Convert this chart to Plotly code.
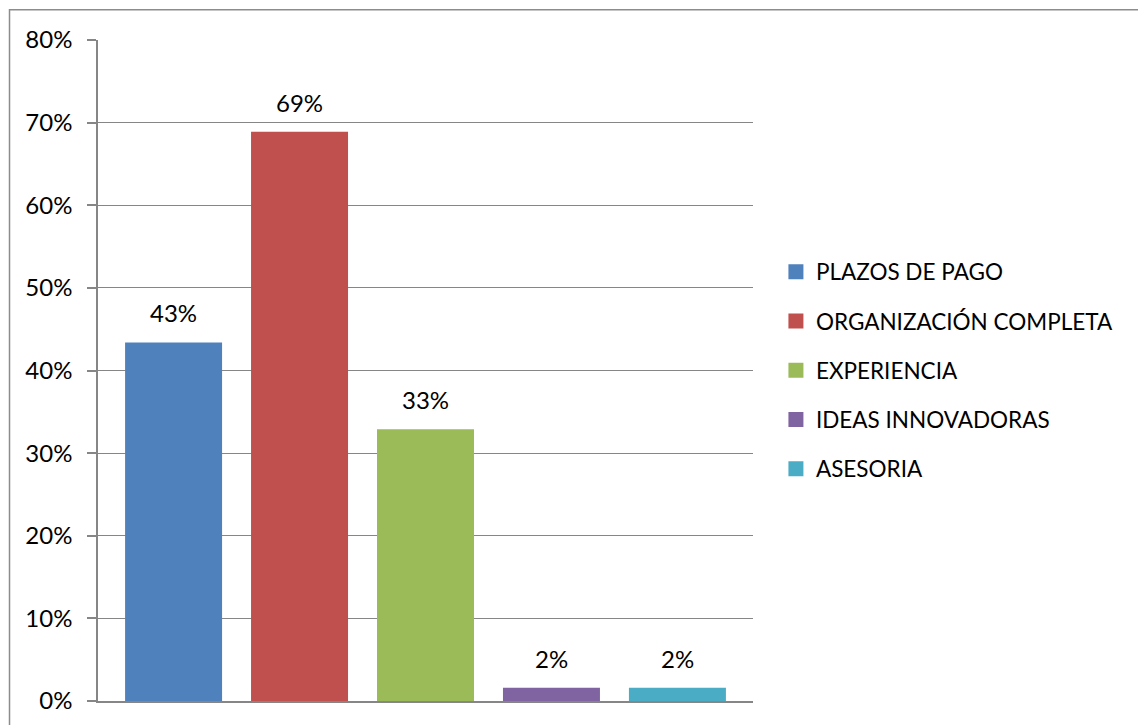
import plotly.graph_objects as go

# Survey results: share of respondents naming each factor
categories = ["PLAZOS DE PAGO", "ORGANIZACIÓN COMPLETA", "EXPERIENCIA",
              "IDEAS INNOVADORAS", "ASESORIA"]
values = [0.434, 0.689, 0.329, 0.016, 0.016]
colors = ["#4F81BD", "#C0504D", "#9BBB59", "#8064A2", "#4BACC6"]
y_ticks = [0, 0.1, 0.2, 0.3, 0.4, 0.5, 0.6, 0.7, 0.8]

FONT = "Lato, Calibri, Carlito, sans-serif"
GRID = "#868686"

fig = go.Figure()
for i, (cat, val, col) in enumerate(zip(categories, values, colors)):
    fig.add_trace(go.Bar(
        x=[cat], y=[val], name=cat, showlegend=False,
        marker=dict(color=col, line=dict(width=0)),
        hoverinfo="skip",
    ))
    # legend entry with a larger square swatch
    fig.add_trace(go.Scatter(
        x=[None], y=[None], name=cat, mode="markers",
        marker=dict(symbol="square", size=15, color=col),
        legendgroup=f"g{i}", hoverinfo="skip",
    ))
    # value label above each bar
    fig.add_annotation(
        x=cat, y=val, text=f"{val:.0%}", showarrow=False,
        yanchor="bottom", yshift=13,
        font=dict(family=FONT, size=24, color="#000000"),
    )

# outer chart frame
fig.add_shape(
    type="rect", xref="paper", yref="paper",
    x0=-0.1351, x1=1.6, y0=-0.06, y1=1.0456,
    line=dict(color="#8c8c8c", width=1.5), layer="below",
)

fig.update_layout(
    width=1138, height=725,
    margin=dict(l=98, r=385, t=40, b=24),
    paper_bgcolor="white", plot_bgcolor="white",
    barmode="overlay", bargap=0.23,
    font=dict(family=FONT, size=22, color="#000000"),
    showlegend=True,
    legend=dict(
        x=1.035, xanchor="left", xref="paper",
        y=0.5, yanchor="middle",
        font=dict(family=FONT, size=22.5, color="#000000"),
        tracegroupgap=17, itemwidth=30, itemsizing="trace",
        bgcolor="rgba(0,0,0,0)",
    ),
    xaxis=dict(
        showticklabels=False, ticks="", showgrid=False, zeroline=False,
        showline=True, linecolor=GRID, linewidth=2,
        categoryorder="array", categoryarray=categories,
        range=[-0.6, 4.6],
        fixedrange=True,
    ),
    yaxis=dict(
        range=[0, 0.8], tickvals=y_ticks, tickformat=".0%",
        showgrid=True, gridcolor=GRID, gridwidth=1,
        zeroline=False, showline=True, linecolor=GRID, linewidth=1.5,
        ticks="outside", ticklen=9, tickcolor=GRID, tickwidth=1.5,
        ticklabelstandoff=10,
        tickfont=dict(family=FONT, size=24, color="#000000"),
        fixedrange=True,
    ),
)

fig.write_html("out.html")
